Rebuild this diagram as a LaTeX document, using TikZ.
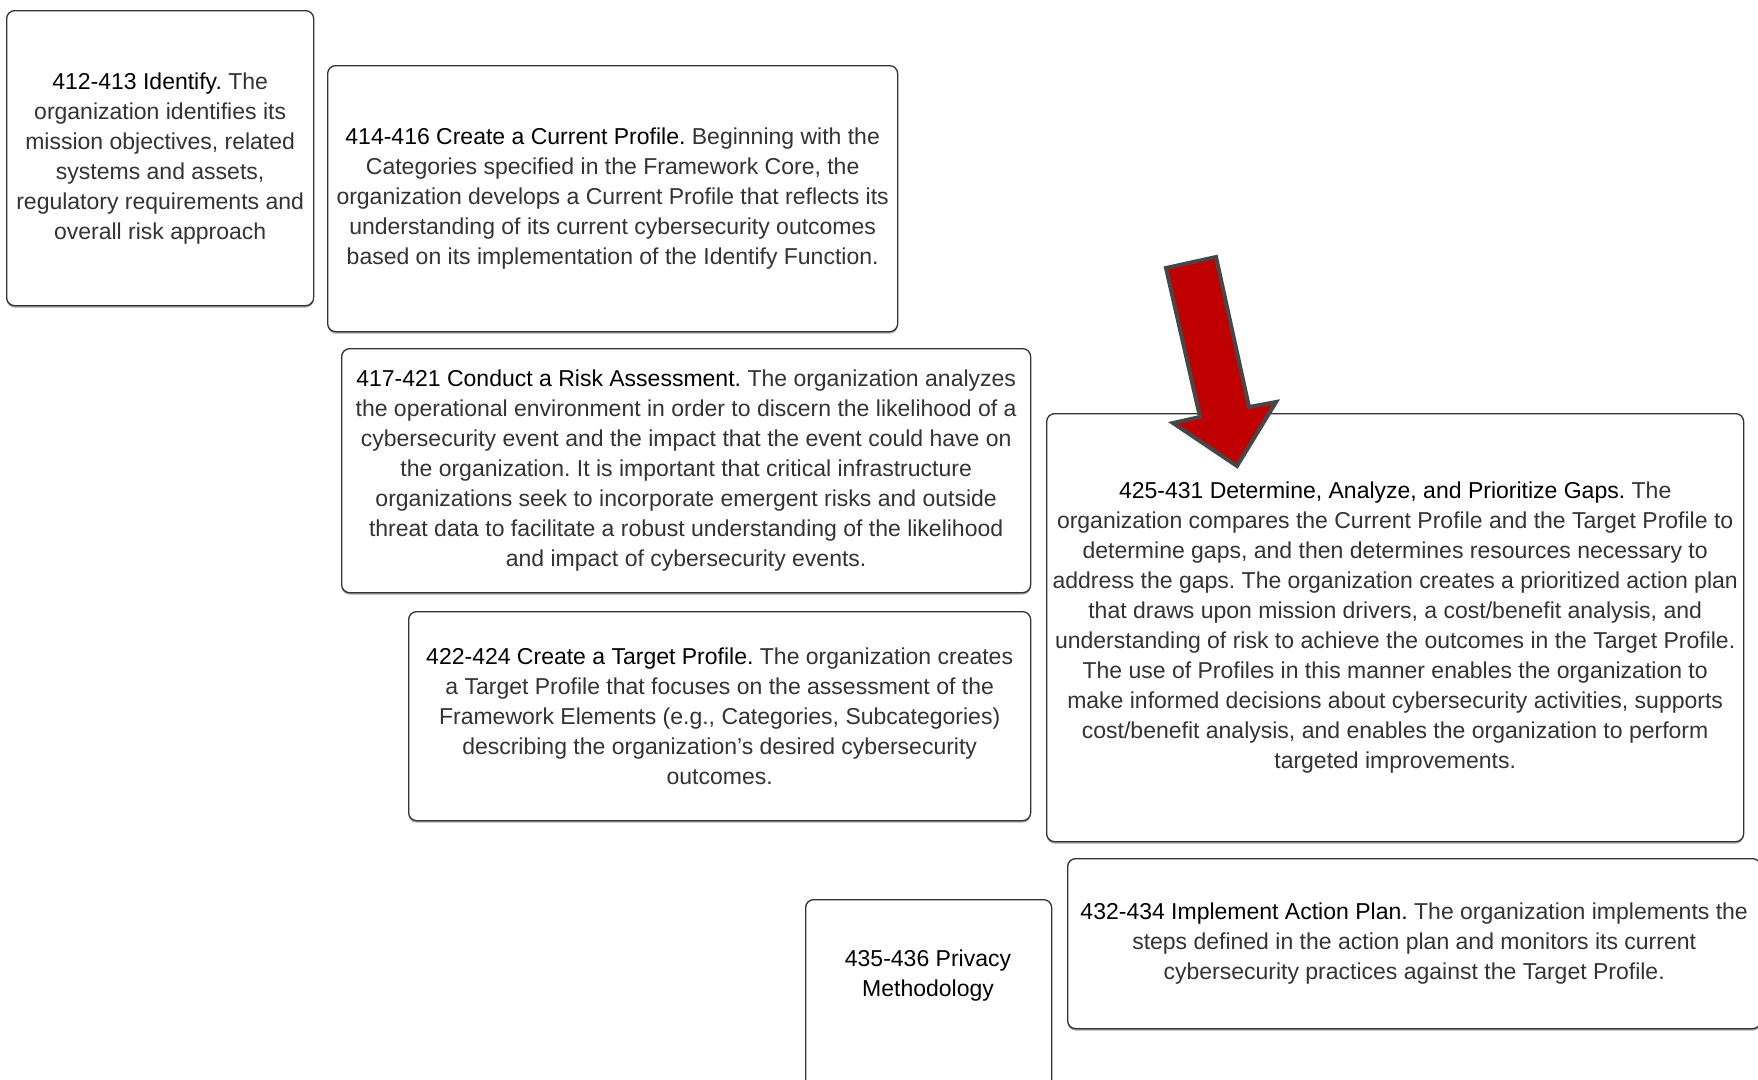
\documentclass[tikz,border=0pt]{standalone}
\usepackage{fontspec}
\setmainfont{Liberation Sans}
\usetikzlibrary{shadows}
\definecolor{arrowred}{HTML}{C00000}
\newcommand{\tit}[1]{\textcolor{black}{#1}}
\frenchspacing

\begin{document}
\begin{tikzpicture}[x=1pt,y=-1pt,
  stepbox/.style={draw=black!80, line width=1.3pt, rounded corners=8pt, fill=white,
    anchor=north west, align=center, inner sep=0pt, text=black!80,
    font=\fontsize{23}{30}\selectfont,
    drop shadow={shadow xshift=0pt, shadow yshift=-2pt, opacity=0.35, fill=black}},
  plaintext/.style={align=center, inner sep=0pt, text=black!80, font=\fontsize{23}{30}\selectfont}]
	\useasboundingbox (0,0) rectangle (1758,1079);
	\clip (0,0) rectangle (1758,1079);
	% identify
	\node[stepbox, minimum width=307pt, minimum height=295pt] (identify) at (6,10)
	{\tit{412-413 Identify.} The\\organization identifies its\\mission objectives, related\\systems and assets,\\regulatory requirements and\\overall risk approach};
	% current profile
	\node[stepbox, minimum width=570pt, minimum height=266pt] (current) at (327,65)
	{\tit{414-416 Create a Current Profile.} Beginning with the\\Categories specified in the Framework Core, the\\organization develops a Current Profile that reflects its\\understanding of its current cybersecurity outcomes\\based on its implementation of the Identify Function.};
	% risk assessment
	\node[stepbox, minimum width=689pt, minimum height=244pt] (risk) at (341,348)
	{\tit{417-421 Conduct a Risk Assessment.} The organization analyzes\\the operational environment in order to discern the likelihood of a\\cybersecurity event and the impact that the event could have on\\the organization. It is important that critical infrastructure\\organizations seek to incorporate emergent risks and outside\\threat data to facilitate a robust understanding of the likelihood\\and impact of cybersecurity events.};
	% target profile
	\node[stepbox, minimum width=622pt, minimum height=209pt] (target) at (408,611)
	{\tit{422-424 Create a Target Profile.} The organization creates\\a Target Profile that focuses on the assessment of the\\Framework Elements (e.g., Categories, Subcategories)\\describing the organization’s desired cybersecurity\\outcomes.};
	% gaps
	\node[stepbox, minimum width=697pt, minimum height=428pt] (gaps) at (1046,413)
	{\tit{425-431 Determine, Analyze, and Prioritize Gaps.} The\\organization compares the Current Profile and the Target Profile to\\determine gaps, and then determines resources necessary to\\address the gaps. The organization creates a prioritized action plan\\that draws upon mission drivers, a cost/benefit analysis, and\\understanding of risk to achieve the outcomes in the Target Profile.\\The use of Profiles in this manner enables the organization to\\make informed decisions about cybersecurity activities, supports\\cost/benefit analysis, and enables the organization to perform\\targeted improvements.};
	% action plan
	\node[stepbox, minimum width=693pt, minimum height=170pt] (action) at (1067,858)
	{\tit{432-434 Implement Action Plan.} The organization implements the\\steps defined in the action plan and monitors its current\\cybersecurity practices against the Target Profile.};
	% privacy (runs off the bottom)
	\node[stepbox, minimum width=246pt, minimum height=240pt] (privacy) at (805,899) {};
	\node[plaintext] (privacytext) at (928,976) {\tit{435-436 Privacy}\\\tit{Methodology}};
	% red arrow onto the gaps box
	\coordinate (tip) at (1237,466);
	\draw[fill=arrowred, draw=black!72, line width=4pt, line join=miter]
	  (1166,268) -- (1216,257) -- (1249,407) -- (1276,402) -- (tip)
	  -- (1173,423) -- (1200,417) -- cycle;
\end{tikzpicture}
\end{document}
